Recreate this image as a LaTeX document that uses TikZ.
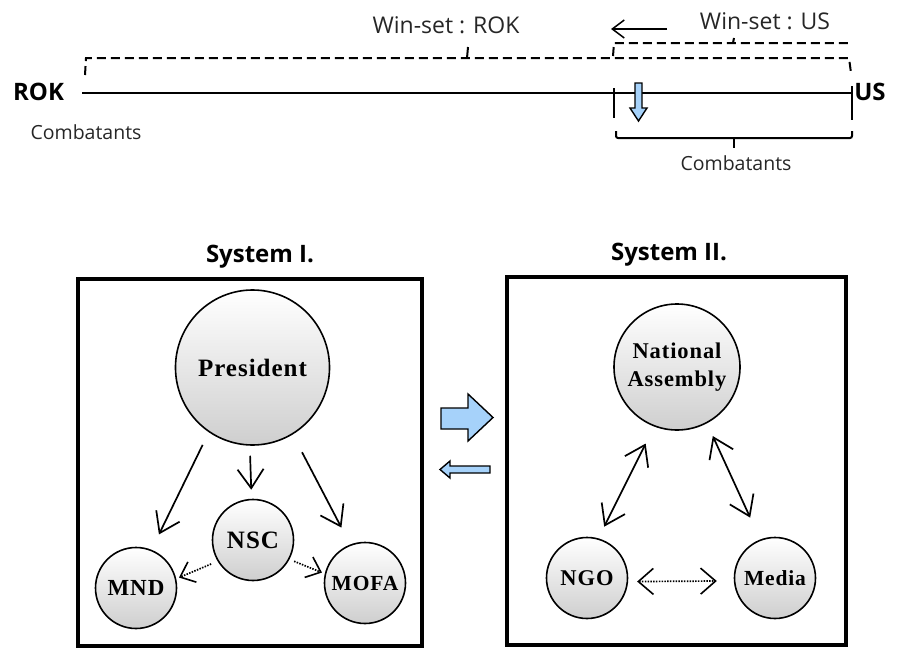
\documentclass[tikz,border=0pt]{standalone}
\usepackage{fontspec}
\setmainfont{Liberation Serif}
\newfontfamily\labfont{Open Sans}
\newfontfamily\circfont[LetterSpace=4]{Liberation Serif}
\usetikzlibrary{arrows.meta,shapes.geometric,calc}
\definecolor{skyb}{HTML}{A6D2FA}
\begin{document}
\begin{tikzpicture}[x=1pt,y=-1pt,
  lbl/.style={font=\labfont\fontsize{19.5}{22}\selectfont, inner sep=0, anchor=base, text=black!85},
  winlbl/.style={font=\labfont\fontsize{23}{26}\selectfont, inner sep=0, anchor=base, text=black!85},
  boldlbl/.style={font=\labfont\bfseries\fontsize{24}{28}\selectfont, inner sep=0, anchor=base},
  titlelbl/.style={font=\labfont\bfseries\fontsize{24}{28}\selectfont, inner sep=0, anchor=base},
  org/.style={circle, draw, line width=1.6pt, inner sep=0, top color=white, bottom color=black!19,
    align=center},
  cf/.style={font=\circfont\bfseries\fontsize{#1}{28}\selectfont},
  sysbox/.style={draw, line width=4pt, inner sep=0},
  barb/.style={Straight Barb[length=#1, width=1.3*#1, line width=1.7pt]},
  arr/.style={-{Straight Barb[length=19pt,width=26pt,line width=1.7pt]}, line width=1.7pt},
  darr/.style={{Straight Barb[length=19pt,width=26pt,line width=1.7pt]}-{Straight Barb[length=19pt,width=26pt,line width=1.7pt]}, line width=1.7pt},
  dotarr/.style={-{Straight Barb[length=13pt,width=22pt,line width=1.6pt]}, line width=1.7pt, dash pattern=on 1.5pt off 1.3pt},
  ddotarr/.style={{Straight Barb[length=15pt,width=26pt,line width=1.6pt]}-{Straight Barb[length=15pt,width=26pt,line width=1.6pt]}, line width=1.7pt, dash pattern=on 1.5pt off 1.3pt},
  dsh/.style={line width=2pt, dash pattern=on 9pt off 5pt},
  blk/.style={draw, line width=1.4pt, fill=skyb, line join=miter}
]
\useasboundingbox (0,0) rectangle (897,648);

% ---------- top: win-set line ----------
\node[boldlbl] (rok) at (38.5,100) {ROK};
\node[boldlbl] (us) at (870,100) {US};
\node[lbl] (comb1) at (86,139) {Combatants};
\node[lbl] (comb2) at (736,170) {Combatants};
\node[winlbl] (wrok) at (446,33) {Win-set : ROK};
\node[winlbl] (wus) at (765,29) {Win-set : US};

\coordinate (lstart) at (82,93);
\coordinate (lend) at (852,93);
\draw[line width=2pt] (lstart) -- (lend);

% ROK win-set bracket (dashed)
\draw[dsh] (85,75) -- (86,58) -- (849,58) -- (851,73);
\draw[line width=2pt] (467,58) -- (468,47);
% US win-set bracket (dashed)
\draw[dsh] (613,56) -- (614,43) -- (852,43);
\draw[line width=2pt] (733,43) -- (734,38);
% shift arrow
\coordinate (sa1) at (667,29);
\coordinate (sa2) at (611,29);
\draw[-{Straight Barb[length=12pt,width=18pt,line width=1.5pt]}, line width=1.5pt] (sa1) -- (sa2);

% ticks and combatants bracket
\draw[line width=2pt] (614,88) -- (614,118);
\draw[line width=2pt] (852,86) -- (852,120);
\draw[line width=2pt, rounded corners=2pt] (616,131) -- (616,138) -- (852,138) -- (852,131);
\draw[line width=2pt] (734,138) -- (734,148);

% small blue down arrow
\draw[blk] (635,83) -- (642,83) -- (642,108) -- (647,108) -- (638.5,121) -- (630,108) -- (635,108) -- cycle;

% ---------- System I ----------
\node[titlelbl] (t1) at (260,262) {System I.};
\node[sysbox, minimum width=344pt, minimum height=367pt] (box1) at (250,462.5) {};

\node[org, ellipse, minimum width=146pt, minimum height=155pt, cf=25] (pres) at (252.5,367.5) {President};
\node[org, minimum size=81pt, cf=25] (nsc) at (253,540) {NSC};
\node[org, minimum size=81pt, cf=23] (mnd) at (136,588) {MND};
\node[org, minimum size=81pt, cf=21.5] (mofa) at (365,583) {MOFA};

\draw[arr, shorten <=14pt, shorten >=17pt] (pres.-124) -- (mnd.68);
\draw[arr, shorten <=10pt, shorten >=9pt] (pres.-92) -- (nsc.92);
\draw[arr, shorten <=20pt, shorten >=19pt] (pres.-59) -- (mofa.111);
\draw[dotarr, shorten <=7pt, shorten >=3pt] (nsc.-149) -- (mnd.13);
\draw[dotarr, shorten <=5pt, shorten >=3pt] (nsc.-28) -- (mofa.167);

% ---------- transition arrows ----------
\draw[blk] (441,408) -- (468,408) -- (468,394) -- (493,417.5) -- (468,441) -- (468,429) -- (441,429) -- cycle;
\draw[blk] (440,469.5) -- (450,461) -- (450,466) -- (490,466) -- (490,473) -- (450,473) -- (450,478) -- cycle;

% ---------- System II ----------
\node[titlelbl] (t2) at (669,260) {System II.};
\node[sysbox, minimum width=339pt, minimum height=368pt] (box2) at (676.5,461) {};

\node[org, minimum size=126pt, cf=22.5] (na) at (677,367) {National\\Assembly};
\node[org, minimum size=81pt, cf=22.5] (ngo) at (587,578) {NGO};
\node[org, minimum size=81pt, cf=21.5] (media) at (775,578) {Media};

\draw[darr, shorten <=19pt, shorten >=13pt] (na.-111) -- (ngo.74);
\draw[darr, shorten <=14pt, shorten >=24pt] (na.-62) -- (media.111);
\draw[ddotarr, shorten <=9pt, shorten >=17pt] (ngo.-5) -- (media.-176);
\end{tikzpicture}
\end{document}
